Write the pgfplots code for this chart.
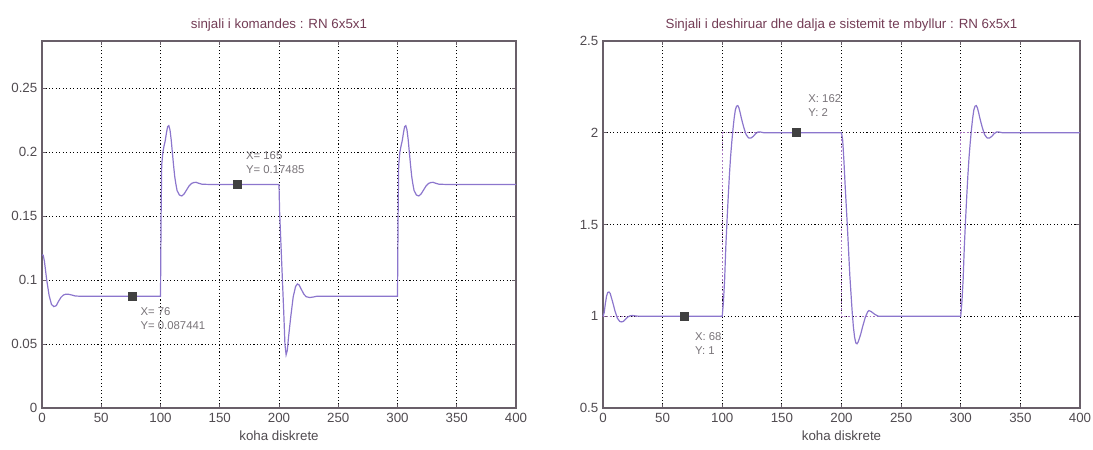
\documentclass[border=0pt]{standalone}
\usepackage{fontspec}
\setmainfont{Liberation Sans}
\usepackage{pgfplots}
\pgfplotsset{compat=1.18}
\definecolor{sig}{RGB}{140,118,205}
\definecolor{refc}{RGB}{165,115,190}
\definecolor{ttl}{RGB}{115,60,85}
\definecolor{tickc}{RGB}{80,75,80}
\definecolor{axc}{RGB}{105,95,105}
\definecolor{tipc}{RGB}{120,115,120}
\pgfplotsset{mystyle/.style={
  scale only axis, height=275.25pt,
  xmin=0, xmax=400, xtick={0,50,...,400},
  grid=major,
  major grid style={black, line width=0.6pt, dash pattern=on 0.8pt off 1.8pt},
  tick align=inside, major tick length=3pt,
  axis line style={axc, line width=0.9pt},
  every tick/.style={axc, line width=0.6pt},
  tick label style={font=\fontsize{10}{12}\selectfont, text=tickc},
  /pgf/number format/assume math mode=true,
  xlabel={koha diskrete},
  xlabel style={font=\fontsize{10}{12}\selectfont, text=tickc},
  title style={font=\fontsize{10}{12}\selectfont, text=ttl, yshift=-2pt},
  anchor=south west,
  clip=false,
}}
\begin{document}
\begin{tikzpicture}
\useasboundingbox (0,0) rectangle (819.75pt,337.5pt);
% ---------------- left ----------------
\begin{axis}[mystyle, at={(31.5pt,31.5pt)}, width=355.5pt,
  ymin=0, ymax=0.287,
  ytick={0,0.05,0.1,0.15,0.2,0.25},
  yticklabels={0,0.05,0.1,0.15,0.2,0.25},
  title={sinjali i komandes : RN 6x5x1}]
\addplot[sig, line width=0.9pt] coordinates {
(0,0.1197)(1,0.1195)(2,0.115)(4,0.100)(6,0.088)(8,0.081)(10,0.0793)(12,0.0800)
(14,0.0835)(16,0.0865)(18,0.0883)(20,0.0890)(22,0.0890)(25,0.0884)(28,0.0876)
(32,0.0874)(100,0.0874)(100.5,0.150)(101,0.190)(102,0.200)(103,0.205)(104,0.209)
(105,0.215)(106,0.220)(107,0.2208)(108,0.2175)(109,0.210)(110,0.200)(111,0.190)
(112,0.181)(113,0.175)(114,0.170)(116,0.1665)(118,0.1658)(120,0.1675)(122,0.1705)
(124,0.1735)(126,0.1755)(128,0.1763)(130,0.1765)(132,0.1758)(135,0.1750)
(140,0.17485)(200,0.17485)(200.5,0.154)(202,0.120)(204,0.075)(205,0.050)
(206,0.0416)(207,0.045)(208,0.055)(210,0.072)(212,0.087)(214,0.095)(215.5,0.097)
(217,0.0962)(219,0.0925)(221,0.0890)(223,0.0870)(226,0.0864)(229,0.0868)
(232,0.0874)(240,0.0874)(300,0.0874)(300.5,0.150)(301,0.190)(302,0.200)
(303,0.205)(304,0.209)(305,0.215)(306,0.220)(307,0.2208)(308,0.2175)(309,0.210)
(310,0.200)(311,0.190)(312,0.181)(313,0.175)(314,0.170)(316,0.1665)(318,0.1658)
(320,0.1675)(322,0.1705)(324,0.1735)(326,0.1755)(328,0.1763)(330,0.1765)
(332,0.1758)(335,0.1750)(340,0.17485)(400,0.17485)
};
\addplot[only marks, mark=square*, mark size=3pt, mark options={fill=black!75, draw=black!75}]
  coordinates {(76,0.087441)(165,0.17485)};
\node[anchor=north west, font=\fontsize{8.5}{10.5}\selectfont, text=tipc, align=left, inner sep=0pt]
  at (axis cs:83,0.079) {X= 76\\Y= 0.087441};
\node[anchor=south west, font=\fontsize{8.5}{10.5}\selectfont, text=tipc, align=left, inner sep=0pt]
  at (axis cs:172,0.183) {X= 165\\Y= 0.17485};
\end{axis}
% ---------------- right ----------------
\begin{axis}[mystyle, at={(452.25pt,31.5pt)}, width=357.75pt,
  ymin=0.5, ymax=2.5,
  ytick={0.5,1,1.5,2,2.5},
  yticklabels={0.5,1,1.5,2,2.5},
  title={Sinjali i deshiruar dhe dalja e sistemit te mbyllur : RN 6x5x1}]
\addplot[refc, line width=1pt, dash pattern=on 1.2pt off 1.5pt] coordinates {
(0,1)(100,1)(100,2)(200,2)(200,1)(300,1)(300,2)(400,2)
};
\addplot[sig, line width=0.9pt] coordinates {
(0,1.0)(1,1.02)(2,1.07)(3,1.11)(4,1.13)(5,1.132)(6,1.125)(8,1.08)(10,1.03)
(12,0.99)(14,0.972)(15.5,0.969)(17,0.972)(19,0.985)(21,0.997)(23,1.003)(25,1.004)
(28,1.001)(32,1.0)(100,1.0)(101,1.08)(102,1.2)(103,1.38)(104,1.52)(105,1.65)
(106,1.77)(107,1.87)(108,1.95)(109,2.02)(110,2.08)(111,2.125)(112,2.145)(113,2.148)
(114,2.135)(115,2.11)(116,2.08)(118,2.03)(120,1.99)(122,1.972)(124,1.971)(126,1.98)
(128,1.995)(130,2.004)(132,2.004)(135,2.0)(200,2.0)(201,1.96)(202,1.85)(203,1.72)
(204,1.6)(205,1.48)(206,1.35)(207,1.22)(208,1.12)(209,1.02)(210,0.94)(211,0.885)
(212,0.855)(213,0.85)(214,0.86)(216,0.9)(218,0.95)(220,0.995)(222,1.025)(223,1.031)
(225,1.025)(228,1.01)(231,1.0)(235,1.0)(300,1.0)(301,1.08)(302,1.2)(303,1.38)
(304,1.52)(305,1.65)(306,1.77)(307,1.87)(308,1.95)(309,2.02)(310,2.08)(311,2.125)
(312,2.145)(313,2.148)(314,2.135)(315,2.11)(316,2.08)(318,2.03)(320,1.99)
(322,1.972)(324,1.971)(326,1.98)(328,1.995)(330,2.004)(332,2.004)(335,2.0)(400,2.0)
};
\addplot[only marks, mark=square*, mark size=3pt, mark options={fill=black!75, draw=black!75}]
  coordinates {(68,1)(162,2)};
\node[anchor=north west, font=\fontsize{8.5}{10.5}\selectfont, text=tipc, align=left, inner sep=0pt]
  at (axis cs:77,0.91) {X: 68\\Y: 1};
\node[anchor=south west, font=\fontsize{8.5}{10.5}\selectfont, text=tipc, align=left, inner sep=0pt]
  at (axis cs:172,2.085) {X: 162\\Y: 2};
\end{axis}
\end{tikzpicture}
\end{document}
